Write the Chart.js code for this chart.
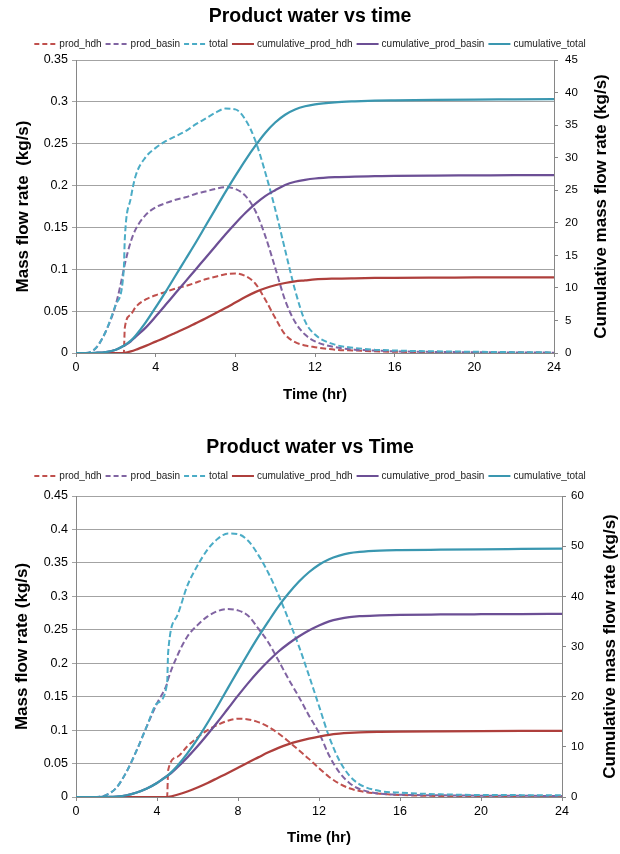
<!DOCTYPE html>
<html><head><meta charset="utf-8">
<script src="https://cdn.jsdelivr.net/npm/chart.js@4.4.1/dist/chart.umd.min.js"></script>
<style>
html,body{margin:0;padding:0;background:#fff;}
#wrap{position:relative;width:620px;height:854px;overflow:hidden;}
canvas{position:absolute;left:0;}
</style></head><body>
<div id="wrap">
<canvas id="c1" width="620" height="427" style="top:0"></canvas>
<canvas id="c2" width="620" height="427" style="top:427px"></canvas>
</div>
<script>
// ---------- data ----------
const SERIES_NAMES = ['prod_hdh','prod_basin','total','cumulative_prod_hdh','cumulative_prod_basin','cumulative_total'];
const X_TICKS = [0,4,8,12,16,20,24];

// Chart 1: Product water vs time
const TIME_1 = [0,0.5,1,1.5,2,2.4,2.45,2.75,3,3.5,4,4.5,5,5.5,6,6.5,7,7.5,8,8.5,9,9.5,10,10.5,11,11.5,12,13,14,15,16,18,20,22,24];
const PROD_HDH_1 = [0,0,0,0,0,0,0.030,0.046,0.055,0.064,0.069,0.073,0.077,0.080,0.084,0.088,0.091,0.094,0.095,0.092,0.083,0.064,0.042,0.022,0.013,0.009,0.007,0.004,0.003,0.002,0.0015,0.001,0.0007,0.0005,0.0003];
const PROD_BASIN_1 = [0,0,0.006,0.026,0.058,0.100,0.106,0.133,0.148,0.165,0.174,0.179,0.183,0.186,0.190,0.193,0.196,0.198,0.196,0.188,0.170,0.140,0.102,0.063,0.037,0.022,0.014,0.007,0.004,0.003,0.002,0.0013,0.0009,0.0006,0.0004];
const TOTAL_1 = [0,0,0.006,0.026,0.058,0.100,0.136,0.185,0.212,0.234,0.245,0.253,0.259,0.265,0.273,0.280,0.287,0.292,0.291,0.279,0.254,0.216,0.172,0.123,0.075,0.038,0.022,0.010,0.006,0.004,0.003,0.002,0.0015,0.001,0.0007];
const CUM_HDH_1 = [0,0,0,0,0,0,0.02,0.25,0.5,1.1,1.75,2.4,3.1,3.8,4.55,5.3,6.1,6.9,7.75,8.6,9.35,9.95,10.4,10.75,11.0,11.15,11.3,11.42,11.48,11.52,11.55,11.58,11.6,11.62,11.63];
const CUM_BASIN_1 = [0,0,0.03,0.15,0.5,1.1,1.18,1.8,2.5,3.9,5.6,7.4,9.2,11.0,12.8,14.6,16.4,18.2,19.9,21.5,22.9,24.1,25.0,25.8,26.3,26.6,26.8,27.0,27.1,27.15,27.2,27.25,27.28,27.31,27.33];
const CUM_TOTAL_1 = [0,0,0.03,0.15,0.5,1.1,1.2,1.9,2.7,4.7,7.0,9.4,11.9,14.4,16.9,19.5,22.1,24.7,27.2,29.6,31.8,33.8,35.4,36.6,37.4,37.9,38.2,38.5,38.65,38.75,38.8,38.87,38.92,38.95,38.98];
const Y_LEFT_TICKS_1 = [0,0.05,0.1,0.15,0.2,0.25,0.3,0.35];
const Y_RIGHT_TICKS_1 = [0,5,10,15,20,25,30,35,40,45];

// Chart 2: Product water vs Time
const TIME_2 = [0,0.5,1,1.5,2,2.5,3,3.5,4,4.5,4.55,5,5.5,6,6.5,7,7.5,8,8.5,9,9.5,10,10.5,11,11.5,12,12.5,13,13.5,14,15,16,18,20,22,24];
const PROD_HDH_2 = [0,0,0,0,0,0,0,0,0,0,0.040,0.060,0.076,0.089,0.100,0.108,0.114,0.117,0.116,0.112,0.105,0.095,0.083,0.070,0.057,0.043,0.030,0.020,0.013,0.009,0.005,0.003,0.0015,0.001,0.0007,0.0005];
const PROD_BASIN_2 = [0,0,0,0.003,0.014,0.038,0.070,0.106,0.140,0.170,0.176,0.211,0.240,0.257,0.270,0.278,0.281,0.279,0.271,0.252,0.231,0.204,0.176,0.150,0.122,0.096,0.062,0.037,0.021,0.012,0.005,0.0035,0.0025,0.002,0.0018,0.0015];
const TOTAL_2 = [0,0,0,0.003,0.014,0.038,0.070,0.106,0.140,0.170,0.216,0.271,0.316,0.346,0.370,0.386,0.394,0.393,0.383,0.362,0.335,0.302,0.265,0.226,0.182,0.136,0.090,0.055,0.032,0.019,0.009,0.0065,0.004,0.003,0.0028,0.0025];
const CUM_HDH_2 = [0,0,0,0,0,0,0,0,0,0,0.01,0.45,1.1,1.9,2.8,3.8,4.8,5.85,6.9,7.9,8.9,9.8,10.55,11.15,11.65,12.05,12.4,12.62,12.77,12.87,12.97,13.03,13.1,13.15,13.18,13.2];
const CUM_BASIN_2 = [0,0,0,0.02,0.1,0.35,0.9,1.7,2.8,4.2,4.3,5.9,7.9,10.1,12.5,15.0,17.6,20.2,22.7,25.0,27.1,29.0,30.6,32.0,33.2,34.2,35.0,35.5,35.85,36.05,36.2,36.3,36.38,36.43,36.47,36.5];
const CUM_TOTAL_2 = [0,0,0,0.02,0.1,0.35,0.9,1.7,2.8,4.2,4.35,6.2,8.7,11.6,14.8,18.2,21.7,25.2,28.6,31.9,35.0,38.0,40.6,42.9,44.8,46.3,47.4,48.1,48.6,48.85,49.1,49.2,49.3,49.38,49.44,49.5];
const Y_LEFT_TICKS_2 = [0,0.05,0.1,0.15,0.2,0.25,0.3,0.35,0.4,0.45];
const Y_RIGHT_TICKS_2 = [0,10,20,30,40,50,60];

// ---------- styling ----------
const FONT = '"Liberation Sans", Arial, Helvetica, sans-serif';
const COLORS = ['#C0504D','#8064A2','#4BACC6','#AE3F3C','#6C4F95','#3A97B0'];
const DASHED = [true,true,true,false,false,false];

const overlayText = {
  id: 'overlayText',
  afterDraw(chart, args, o) {
    const ctx = chart.ctx;
    ctx.save();
    ctx.font = '10px ' + FONT;
    const ds = chart.data.datasets;
    const widths = ds.map(d => ctx.measureText(d.label).width);
    const total = widths.reduce((s, w) => s + o.lineLen + o.lineGap + w, 0) + o.itemGap * (ds.length - 1);
    let x = (chart.width - total) / 2 + o.legendShift;
    const y = o.legendY;
    ds.forEach((d, i) => {
      ctx.beginPath();
      ctx.setLineDash(d.borderDash && d.borderDash.length ? [5, 3] : []);
      ctx.strokeStyle = d.borderColor;
      ctx.lineWidth = 2;
      ctx.moveTo(x, y);
      ctx.lineTo(x + o.lineLen, y);
      ctx.stroke();
      x += o.lineLen + o.lineGap;
      ctx.setLineDash([]);
      ctx.fillStyle = '#222';
      ctx.textAlign = 'left';
      ctx.textBaseline = 'middle';
      ctx.fillText(d.label, x, y);
      x += widths[i] + o.itemGap;
    });
    ctx.font = 'bold 17px ' + FONT;
    ctx.fillStyle = '#000';
    ctx.translate(o.rightX, (chart.chartArea.top + chart.chartArea.bottom) / 2);
    ctx.rotate(-Math.PI / 2);
    ctx.textAlign = 'center';
    ctx.textBaseline = 'middle';
    ctx.fillText(o.rightTitle, 0, 0);
    ctx.restore();
  }
};

function buildDatasets(time, series) {
  return series.map((arr, i) => ({
    label: SERIES_NAMES[i],
    data: time.map((t, j) => ({x: t, y: arr[j]})),
    borderColor: COLORS[i],
    backgroundColor: COLORS[i],
    borderWidth: DASHED[i] ? 2 : 2.25,
    borderDash: DASHED[i] ? [6, 3] : [],
    pointRadius: 0,
    fill: false,
    cubicInterpolationMode: 'monotone',
    yAxisID: i < 3 ? 'y' : 'y1',
    order: 6 - i
  }));
}

function ticksFrom(arr) {
  return scale => { scale.ticks = arr.map(v => ({value: v})); };
}
const fmt = v => String(parseFloat(Number(v).toFixed(4)));

function makeChart(id, cfg) {
  new Chart(document.getElementById(id), {
    type: 'line',
    data: { datasets: buildDatasets(cfg.time, cfg.series) },
    options: {
      responsive: false,
      animation: false,
      devicePixelRatio: 1,
      events: [],
      layout: { padding: 0 },
      plugins: {
        legend: { display: false },
        tooltip: { enabled: false },
        title: {
          display: true, text: cfg.title, color: '#000',
          font: { family: FONT, size: 19.5, weight: 'bold' },
          padding: { top: cfg.titleTop, bottom: cfg.titleBottom }
        },
        overlayText: {
          legendY: cfg.legendY, legendShift: 0, lineLen: 22, lineGap: 3, itemGap: 4,
          rightX: cfg.rightTitleX, rightTitle: 'Cumulative mass flow rate (kg/s)'
        }
      },
      scales: {
        x: {
          type: 'linear', min: 0, max: 24,
          afterBuildTicks: ticksFrom(X_TICKS),
          afterFit: s => { s.height = cfg.xHeight; },
          grid: { display: true, drawOnChartArea: false, drawTicks: true, tickLength: 4, color: '#868686' },
          border: { display: true, color: '#868686', width: 1 },
          ticks: { color: '#000', font: { family: FONT, size: 12.5 }, padding: 3, maxRotation: 0, autoSkip: false, callback: fmt },
          title: { display: true, text: 'Time (hr)', color: '#000', font: { family: FONT, size: 15, weight: 'bold' },
                   padding: { top: 0, bottom: cfg.xTitleBottom } }
        },
        y: {
          type: 'linear', position: 'left', min: 0, max: cfg.leftTicks[cfg.leftTicks.length - 1],
          afterBuildTicks: ticksFrom(cfg.leftTicks),
          afterFit: s => { s.width = 76; },
          grid: { color: '#a3a3a3', lineWidth: 1, tickLength: 4 },
          border: { display: true, color: '#868686', width: 1 },
          ticks: { color: '#000', font: { family: FONT, size: 12.5 }, padding: 4, callback: fmt },
          title: { display: true, text: cfg.leftTitle, color: '#000', font: { family: FONT, size: 17, weight: 'bold' },
                   padding: { top: cfg.leftTitlePad, bottom: 0 } }
        },
        y1: {
          type: 'linear', position: 'right', min: 0, max: cfg.rightTicks[cfg.rightTicks.length - 1],
          afterBuildTicks: ticksFrom(cfg.rightTicks),
          afterFit: s => { s.width = cfg.rightWidth; },
          grid: { drawOnChartArea: false, drawTicks: true, tickLength: 4, color: '#868686' },
          border: { display: true, color: '#868686', width: 1 },
          ticks: { color: '#000', font: { family: FONT, size: 11.5 }, padding: cfg.rightPad, callback: fmt },
          title: { display: false }
        }
      }
    },
    plugins: [overlayText]
  });
}

makeChart('c1', {
  time: TIME_1,
  series: [PROD_HDH_1, PROD_BASIN_1, TOTAL_1, CUM_HDH_1, CUM_BASIN_1, CUM_TOTAL_1],
  title: 'Product water vs time', titleTop: 5.3, titleBottom: 31.3, legendY: 44,
  leftTicks: Y_LEFT_TICKS_1, rightTicks: Y_RIGHT_TICKS_1,
  leftTitle: 'Mass flow rate  (kg/s)', leftTitlePad: 13,
  xHeight: 74, xTitleBottom: 23, rightWidth: 66, rightPad: 7, rightTitleX: 601
});
makeChart('c2', {
  time: TIME_2,
  series: [PROD_HDH_2, PROD_BASIN_2, TOTAL_2, CUM_HDH_2, CUM_BASIN_2, CUM_TOTAL_2],
  title: 'Product water vs Time', titleTop: 9.3, titleBottom: 36.3, legendY: 49,
  leftTicks: Y_LEFT_TICKS_2, rightTicks: Y_RIGHT_TICKS_2,
  leftTitle: 'Mass flow rate (kg/s)', leftTitlePad: 12,
  xHeight: 57, xTitleBottom: 7, rightWidth: 58, rightPad: 5, rightTitleX: 610
});
</script>
</body></html>
